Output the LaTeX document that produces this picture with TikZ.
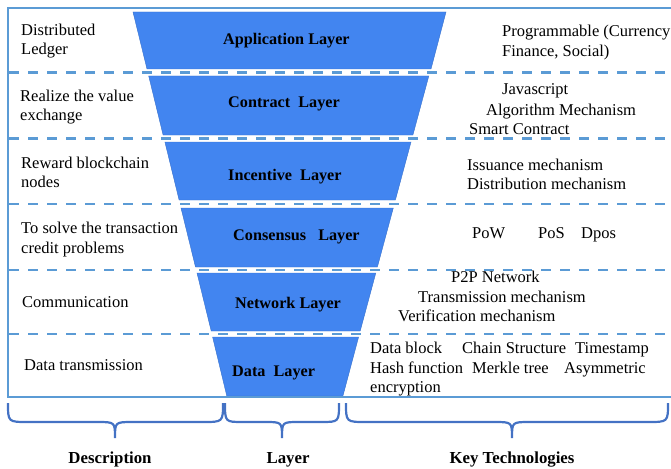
\documentclass[tikz,border=0pt]{standalone}
\usepackage{fontspec}
\setmainfont{Liberation Serif}
\definecolor{layerblue}{RGB}{66,133,240}
\definecolor{framecol}{RGB}{91,155,213}
\definecolor{bracecol}{RGB}{68,114,196}
\tikzset{
  txt/.style={anchor=base west, inner sep=0pt, font=\fontsize{16.5}{19}\selectfont},
  lay/.style={anchor=base west, inner sep=0pt, font=\fontsize{16.2}{19}\selectfont\bfseries},
  head/.style={anchor=base, inner sep=0pt, font=\fontsize{16.8}{19}\selectfont\bfseries},
  sep/.style={draw=framecol, line width=2.6pt, dash pattern=on 10pt off 9pt},
  funnel/.style={fill=layerblue, draw=layerblue!85!black, line width=0.4pt},
  curly/.style={draw=bracecol, line width=2.2pt}
}
\begin{document}
\begin{tikzpicture}[x=1pt,y=-1pt]
\useasboundingbox (0,0) rectangle (671,468);
% funnel of layers
\draw[funnel] (133,12) -- (446,12) -- (431,69) -- (147,69) -- cycle;
\draw[funnel] (148.7,76) -- (428.8,76) -- (412.9,135) -- (163.1,135) -- cycle;
\draw[funnel] (164.9,142) -- (411,142) -- (395.4,200) -- (179.1,200) -- cycle;
\draw[funnel] (181,208) -- (393.3,208) -- (377.4,267) -- (195.5,267) -- cycle;
\draw[funnel] (197,273) -- (375.8,273) -- (360.2,331) -- (211.2,331) -- cycle;
\draw[funnel] (212.6,337) -- (358.6,337) -- (342.9,396) -- (226.8,396) -- cycle;
% dashed separators
\draw[sep] (9,72.5) -- (671,72.5);
\draw[sep] (9,138.5) -- (671,138.5);
\draw[sep] (9,204) -- (671,204);
\draw[sep] (9,270) -- (671,270);
\draw[sep] (9,334) -- (671,334);
% outer frame
\draw[draw=framecol, line width=2pt] (8,8) rectangle (690,397);
% layer names
\node[lay] (app) at (223,45) {Application Layer};
\node[lay] (con) at (228,108) {Contract\ \ Layer};
\node[lay] (inc) at (228,180) {Incentive\ \ Layer};
\node[lay] (cns) at (233,240) {Consensus\ \ \ Layer};
\node[lay] (net) at (235,308) {Network Layer};
\node[lay] (dat) at (232,376) {Data\ \ Layer};
% description column
\node[txt] (d1a) at (21,36) {Distributed};
\node[txt] (d1b) at (21,55) {Ledger};
\node[txt] (d2a) at (20,102) {Realize the value};
\node[txt] (d2b) at (20,121) {exchange};
\node[txt] (d3a) at (21,168) {Reward blockchain};
\node[txt] (d3b) at (21,187) {nodes};
\node[txt] (d4a) at (21,233) {To solve the transaction};
\node[txt] (d4b) at (21,253) {credit problems};
\node[txt] (d5) at (22,307) {Communication};
\node[txt] (d6) at (24,370) {Data transmission};
% key technologies column
\node[txt] (k1a) at (502,37) {Programmable (Currency};
\node[txt] (k1b) at (502,57) {Finance, Social)};
\node[txt] (k2a) at (502,95) {Javascript};
\node[txt] (k2b) at (486,115) {Algorithm Mechanism};
\node[txt] (k2c) at (469,134) {Smart Contract};
\node[txt] (k3a) at (467,170) {Issuance mechanism};
\node[txt] (k3b) at (467,189) {Distribution mechanism};
\node[txt] (k4a) at (472,238) {PoW};
\node[txt] (k4b) at (538,238) {PoS};
\node[txt] (k4c) at (581,238) {Dpos};
\node[txt] (k5a) at (451,282) {P2P Network};
\node[txt] (k5b) at (418,302) {Transmission mechanism};
\node[txt] (k5c) at (398,321) {Verification mechanism};
\node[txt] (k6a) at (370,353) {Data block};
\node[txt] (k6b) at (462,353) {Chain Structure};
\node[txt] (k6c) at (575,353) {Timestamp};
\node[txt] (k6d) at (370,373) {Hash function};
\node[txt] (k6e) at (472,373) {Merkle tree};
\node[txt] (k6f) at (564,373) {Asymmetric};
\node[txt] (k6g) at (370,392) {encryption};
% braces under the columns
\draw[curly] (8,403) .. controls (8,422) .. (28,422) -- (97,422)
  .. controls (115,422) .. (115,438) .. controls (115,422) .. (133,422)
  -- (203,422) .. controls (223,422) .. (223,403);
\draw[curly] (225,403) .. controls (225,422) .. (243,422) -- (265,422)
  .. controls (282,422) .. (282,438) .. controls (282,422) .. (299,422)
  -- (321,422) .. controls (339,422) .. (339,403);
\draw[curly] (346,403) .. controls (346,422) .. (366,422) -- (494,422)
  .. controls (512,422) .. (512,438) .. controls (512,422) .. (530,422)
  -- (648,422) .. controls (668,422) .. (668,403);
% column headings
\node[head] (hdesc) at (110,463) {Description};
\node[head] (hlay) at (288,463) {Layer};
\node[head] (htech) at (512,463) {Key Technologies};
\end{tikzpicture}
\end{document}
